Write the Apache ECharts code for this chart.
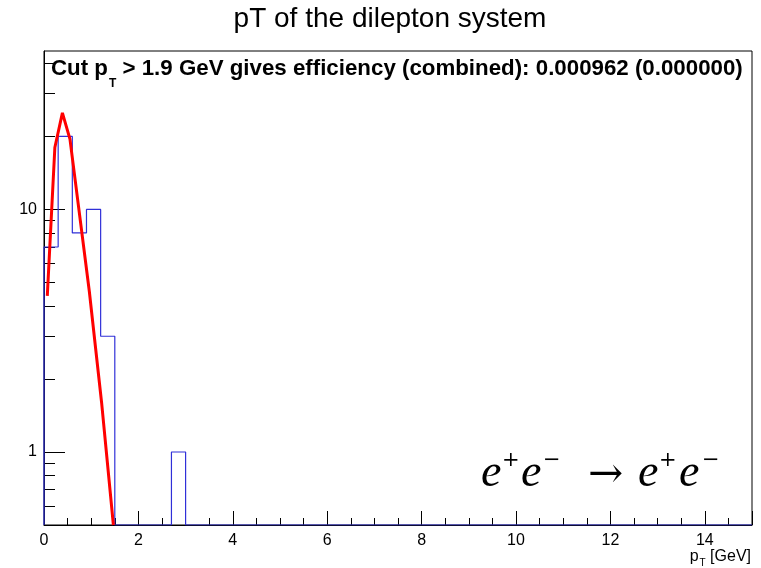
<!DOCTYPE html>
<html><head><meta charset="utf-8">
<script src="https://cdn.jsdelivr.net/npm/echarts@6/dist/echarts.min.js"></script>
<style>html,body{margin:0;padding:0;background:#fff}#c{width:761px;height:568px}</style>
</head><body><div id="c"></div>
<script>
// ---- data ----
const chartTitle = 'pT of the dilepton system';
const cutLabelPre = 'Cut p';
const cutLabelSub = 'T';
const cutLabelPost = ' > 1.9 GeV gives efficiency (combined): 0.000962 (0.000000)';
const xAxisName = 'p';
const xAxisNameSub = 'T';
const xAxisNameUnit = ' [GeV]';
const binWidth = 0.3;
const histCounts = [7, 20, 8, 10, 3, 0, 0, 0, 0, 1,
  0, 0, 0, 0, 0, 0, 0, 0, 0, 0,
  0, 0, 0, 0, 0, 0, 0, 0, 0, 0,
  0, 0, 0, 0, 0, 0, 0, 0, 0, 0,
  0, 0, 0, 0, 0, 0, 0, 0, 0, 0];
const fitX = [0.07, 0.23, 0.39, 0.55, 0.96, 1.22, 1.47];
const fitY = [4.4, 18, 25, 19.5, 4.6, 1.6, 0.5];
const xMin = 0, xMax = 15, xInterval = 2;
const yMin = 0.5, yMax = 45;
const yMajorTicks = [1, 10];
const yMinorTicks = [0.6, 0.7, 0.8, 0.9, 2, 3, 4, 5, 6, 7, 8, 9, 20, 30, 40];

// ---- helpers ----
const SANS = '"Liberation Sans", Arial, sans-serif';
const SERIF = '"Liberation Serif", "DejaVu Serif", serif';
const DSERIF = '"DejaVu Serif", serif';
const mctx = document.createElement('canvas').getContext('2d');
function measure(font, t) { mctx.font = font; return mctx.measureText(t).width; }
function runs(x0, baseline, parts, color) {
  let x = x0; const els = [];
  for (const p of parts) {
    const font = `${p.style || 'normal'} ${p.weight || 'normal'} ${p.size}px ${p.family}`;
    x += (p.before || 0);
    els.push({ type: 'text', silent: true, x: x, y: baseline + (p.dy || 0) - 0.34 * p.size,
      style: { text: p.t, font: font, fill: color, textAlign: 'left', verticalAlign: 'middle' } });
    x += measure(font, p.t) + (p.after || 0);
  }
  return { els, width: x - x0 };
}

// histogram outline points
const histPts = [[xMin, yMin]];
histCounts.forEach((c, i) => {
  const v = Math.max(c, yMin);
  histPts.push([xMin + i * binWidth, v]);
  histPts.push([xMin + (i + 1) * binWidth, v]);
});
const fitPts = fitX.map((x, i) => [x, fitY[i]]);

// texts
const graphics = [];
graphics.push({ type: 'text', silent: true, x: 390, y: 29 - 0.34 * 28,
  style: { text: chartTitle, font: `normal 28px ${SANS}`, fill: '#000', textAlign: 'center', verticalAlign: 'middle' } });
graphics.push(...runs(51, 76, [
  { t: cutLabelPre, size: 22.3, weight: 'bold', family: SANS },
  { t: cutLabelSub, size: 12, weight: 'bold', family: SANS, dy: 12, before: 1 },
  { t: cutLabelPost, size: 22.3, weight: 'bold', family: SANS }
], '#000').els);
// formula glyphs: [text, left x, center y, font]
const eFont = `italic normal 46px ${SERIF}`;
const supFont = `normal normal 21px ${DSERIF}`;
const arrFont = `normal normal 42px ${DSERIF}`;
const formula = [
  ['e', 481, 474, eFont], ['+', 502, 461, supFont], ['e', 521, 474, eFont], ['\u2212', 543, 461, supFont],
  ['\u2192', 588, 476, arrFont],
  ['e', 638, 474, eFont], ['+', 659, 461, supFont], ['e', 679, 474, eFont], ['\u2212', 702, 461, supFont]
];
formula.forEach(g => graphics.push({ type: 'text', silent: true, x: g[1], y: g[2],
  style: { text: g[0], font: g[3], fill: '#000', textAlign: 'left', verticalAlign: 'middle' } }));
const axParts = [
  { t: xAxisName, size: 16, family: SANS },
  { t: xAxisNameSub, size: 10, family: SANS, dy: 5, before: 1 },
  { t: xAxisNameUnit, size: 16, family: SANS }
];
const axW = runs(0, 0, axParts, '#000').width;
graphics.push(...runs(751 - axW, 562, axParts, '#000').els);

const chart = echarts.init(document.getElementById('c'), null, { renderer: 'canvas' });
chart.setOption({
  animation: false,
  backgroundColor: '#fff',
  grid: { left: 44, right: 9, top: 51, bottom: 43, show: true, borderColor: '#000', borderWidth: 1, backgroundColor: 'transparent' },
  xAxis: {
    type: 'value', min: xMin, max: xMax, interval: xInterval,
    axisLine: { show: true, lineStyle: { color: '#000', width: 1 } },
    axisTick: { show: true, inside: true, length: 14, lineStyle: { color: '#000' } },
    minorTick: { show: true, splitNumber: 4, length: 7, lineStyle: { color: '#000' } },
    splitLine: { show: false }, minorSplitLine: { show: false },
    axisLabel: { show: true, color: '#000', fontSize: 16, fontFamily: SANS, margin: 8, showMaxLabel: false }
  },
  yAxis: [{
    type: 'log', logBase: 10, min: yMin, max: yMax,
    axisLine: { show: true, lineStyle: { color: '#000', width: 1 } },
    axisTick: { show: true, inside: true, length: 21, customValues: yMajorTicks, lineStyle: { color: '#000' } },
    axisLabel: { show: true, color: '#000', fontSize: 16, fontFamily: SANS, margin: 7, customValues: yMajorTicks },
    splitLine: { show: false }
  }, {
    type: 'log', logBase: 10, min: yMin, max: yMax, position: 'left', offset: 0,
    axisLine: { show: false },
    axisTick: { show: true, inside: true, length: 11, customValues: yMinorTicks, lineStyle: { color: '#000' } },
    axisLabel: { show: false },
    splitLine: { show: false }
  }],
  series: [{
    type: 'line', data: histPts, symbol: 'none', yAxisIndex: 0, clip: true,
    lineStyle: { color: '#3030d8', width: 1.2 }, z: 3
  }, {
    type: 'line', data: fitPts, symbol: 'none', yAxisIndex: 0, clip: true,
    lineStyle: { color: '#ff0000', width: 3 }, z: 4
  }],
  graphic: graphics
});
</script>
</body></html>
